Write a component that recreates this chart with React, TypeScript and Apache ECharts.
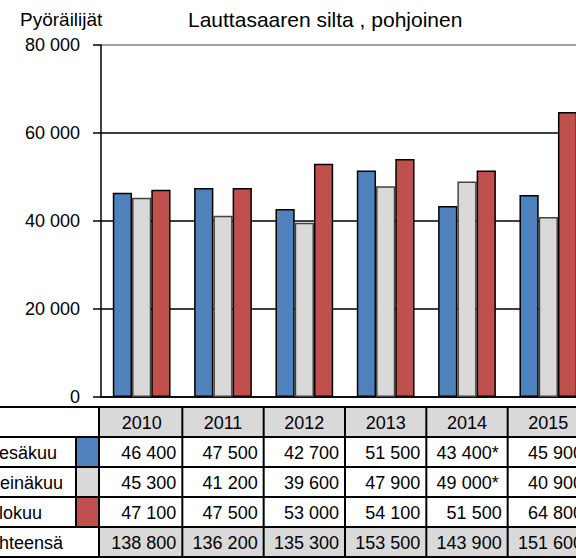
import React, { useEffect, useRef } from "react";
import * as echarts from "echarts";

const years = ["2010", "2011", "2012", "2013", "2014", "2015"];
const seriesNames = ["Kesäkuu", "Heinäkuu", "Elokuu"];
const kesakuu = [46400, 47500, 42700, 51500, 43400, 45900];
const heinakuu = [45300, 41200, 39600, 47900, 49000, 40900];
const elokuu = [47100, 47500, 53000, 54100, 51500, 64800];
const kesakuuNotes = ["", "", "", "", "*", ""];
const heinakuuNotes = ["", "", "", "", "*", ""];
const elokuuNotes = ["", "", "", "", "", ""];
const totals = [138800, 136200, 135300, 153500, 143900, 151600];
const totalLabel = "Yhteensä";
const titleText = "Lauttasaaren silta , pohjoinen";
const yName = "Pyöräilijät";

const colors = ["#4F81BD", "#D9D9D9", "#C0504D"];
const borderColors = ["#000", "#444", "#000"];
const FONT = '"Liberation Sans", Arial, sans-serif';

const fmt = (n: number) => String(n).replace(/\B(?=(\d{3})+(?!\d))/g, " ");

export default function App() {
  const ref = useRef<HTMLDivElement>(null);
  useEffect(() => {
    if (!ref.current) return;
    const chart = echarts.init(ref.current, null, { renderer: "svg" });
    const values = [kesakuu, heinakuu, elokuu];
    chart.setOption({
      animation: false,
      title: {
        text: titleText,
        left: 183,
        top: 4,
        textStyle: { fontFamily: FONT, fontSize: 21, fontWeight: "normal", color: "#000" },
      },
      grid: { left: 101, top: 45, bottom: 161, right: 0, containLabel: false },
      xAxis: {
        type: "category",
        data: years,
        axisLine: { show: true, lineStyle: { color: "#000", width: 1.5 } },
        axisTick: { show: false },
        axisLabel: { show: false },
      },
      yAxis: {
        type: "value",
        min: 0,
        max: 80000,
        interval: 20000,
        axisLine: { show: true, lineStyle: { color: "#000", width: 1.5 } },
        axisTick: { show: true, length: 8, lineStyle: { color: "#000", width: 1.5 } },
        axisLabel: {
          formatter: (v: number) => fmt(v),
          fontFamily: FONT,
          fontSize: 18,
          color: "#000",
          margin: 21,
        },
        splitLine: {
          show: true,
          lineStyle: { color: ["#000", "#000", "#000", "#000", "#808080"], width: 1.5 },
        },
      },
      series: seriesNames.map((name, i) => ({
        name,
        type: "bar",
        data: values[i],
        barGap: "0%",
        barCategoryGap: "29%",
        itemStyle: { color: colors[i], borderColor: borderColors[i], borderWidth: 1.5 },
      })),
    });

    const c0 = chart.convertToPixel({ xAxisIndex: 0 }, 0) as number;
    const c1 = chart.convertToPixel({ xAxisIndex: 0 }, 1) as number;
    const bw = c1 - c0;
    const rowTops = [407, 437, 467, 497, 527, 557];
    const labelColRight = 99;
    const keyLeft = 76;
    const g: any[] = [];
    const textStyle = (text: string, x: number, y: number, align: string, size = 18) => ({
      type: "text",
      x,
      y,
      style: { text, fontFamily: FONT, fontSize: size, fill: "#000", align, verticalAlign: "middle" },
      z: 20,
    });
    const tableRight = c0 + bw * (years.length - 0.5);
    g.push({
      type: "rect",
      shape: { x: labelColRight, y: rowTops[0], width: tableRight - labelColRight, height: rowTops[1] - rowTops[0] },
      style: { fill: "#D9D9D9" },
      z: 10,
    });
    g.push({
      type: "rect",
      shape: { x: labelColRight, y: rowTops[4], width: tableRight - labelColRight, height: rowTops[5] - rowTops[4] },
      style: { fill: "#D9D9D9" },
      z: 10,
    });
    for (let i = 0; i < 3; i++) {
      g.push({
        type: "rect",
        shape: { x: keyLeft + 1, y: rowTops[i + 1] + 1, width: labelColRight - keyLeft - 2, height: rowTops[i + 2] - rowTops[i + 1] - 1 },
        style: { fill: colors[i] },
        z: 11,
      });
    }
    rowTops.forEach((y) => {
      g.push({ type: "line", shape: { x1: 0, y1: y, x2: tableRight + 20, y2: y }, style: { stroke: "#000", lineWidth: 2 }, z: 15 });
    });
    g.push({ type: "line", shape: { x1: keyLeft, y1: rowTops[1], x2: keyLeft, y2: rowTops[4] }, style: { stroke: "#000", lineWidth: 2 }, z: 15 });
    for (let i = 0; i <= years.length; i++) {
      const x = i === 0 ? labelColRight : c0 + bw * (i - 0.5);
      g.push({ type: "line", shape: { x1: x, y1: rowTops[0], x2: x, y2: rowTops[5] }, style: { stroke: "#000", lineWidth: 2 }, z: 15 });
    }
    years.forEach((yr, i) => {
      const cx = chart.convertToPixel({ xAxisIndex: 0 }, i) as number;
      g.push(textStyle(yr, cx, (rowTops[0] + rowTops[1]) / 2 + 1, "center"));
    });
    const rowLabels = [...seriesNames, totalLabel];
    rowLabels.forEach((lbl, r) => {
      g.push(textStyle(lbl, -13, (rowTops[r + 1] + rowTops[r + 2]) / 2 + 1, "left"));
    });
    const rows = [kesakuu, heinakuu, elokuu, totals];
    const notes = [kesakuuNotes, heinakuuNotes, elokuuNotes, ["", "", "", "", "", ""]];
    rows.forEach((row, r) => {
      row.forEach((v, i) => {
        const cx = chart.convertToPixel({ xAxisIndex: 0 }, i) as number;
        const right = cx + bw / 2 - 6;
        g.push(textStyle(fmt(v) + notes[r][i], notes[r][i] ? right - 3 : right, (rowTops[r + 1] + rowTops[r + 2]) / 2 + 1, "right"));
      });
    });
    g.push(textStyle(yName, 20, 19, "left", 19));
    chart.setOption({ graphic: g });
    return () => chart.dispose();
  }, []);
  return (
    <div style={{ position: "fixed", left: 0, top: 0, width: 576, height: 558, overflow: "hidden", background: "#fff" }}>
      <div ref={ref} style={{ width: 589, height: 558 }} />
    </div>
  );
}
